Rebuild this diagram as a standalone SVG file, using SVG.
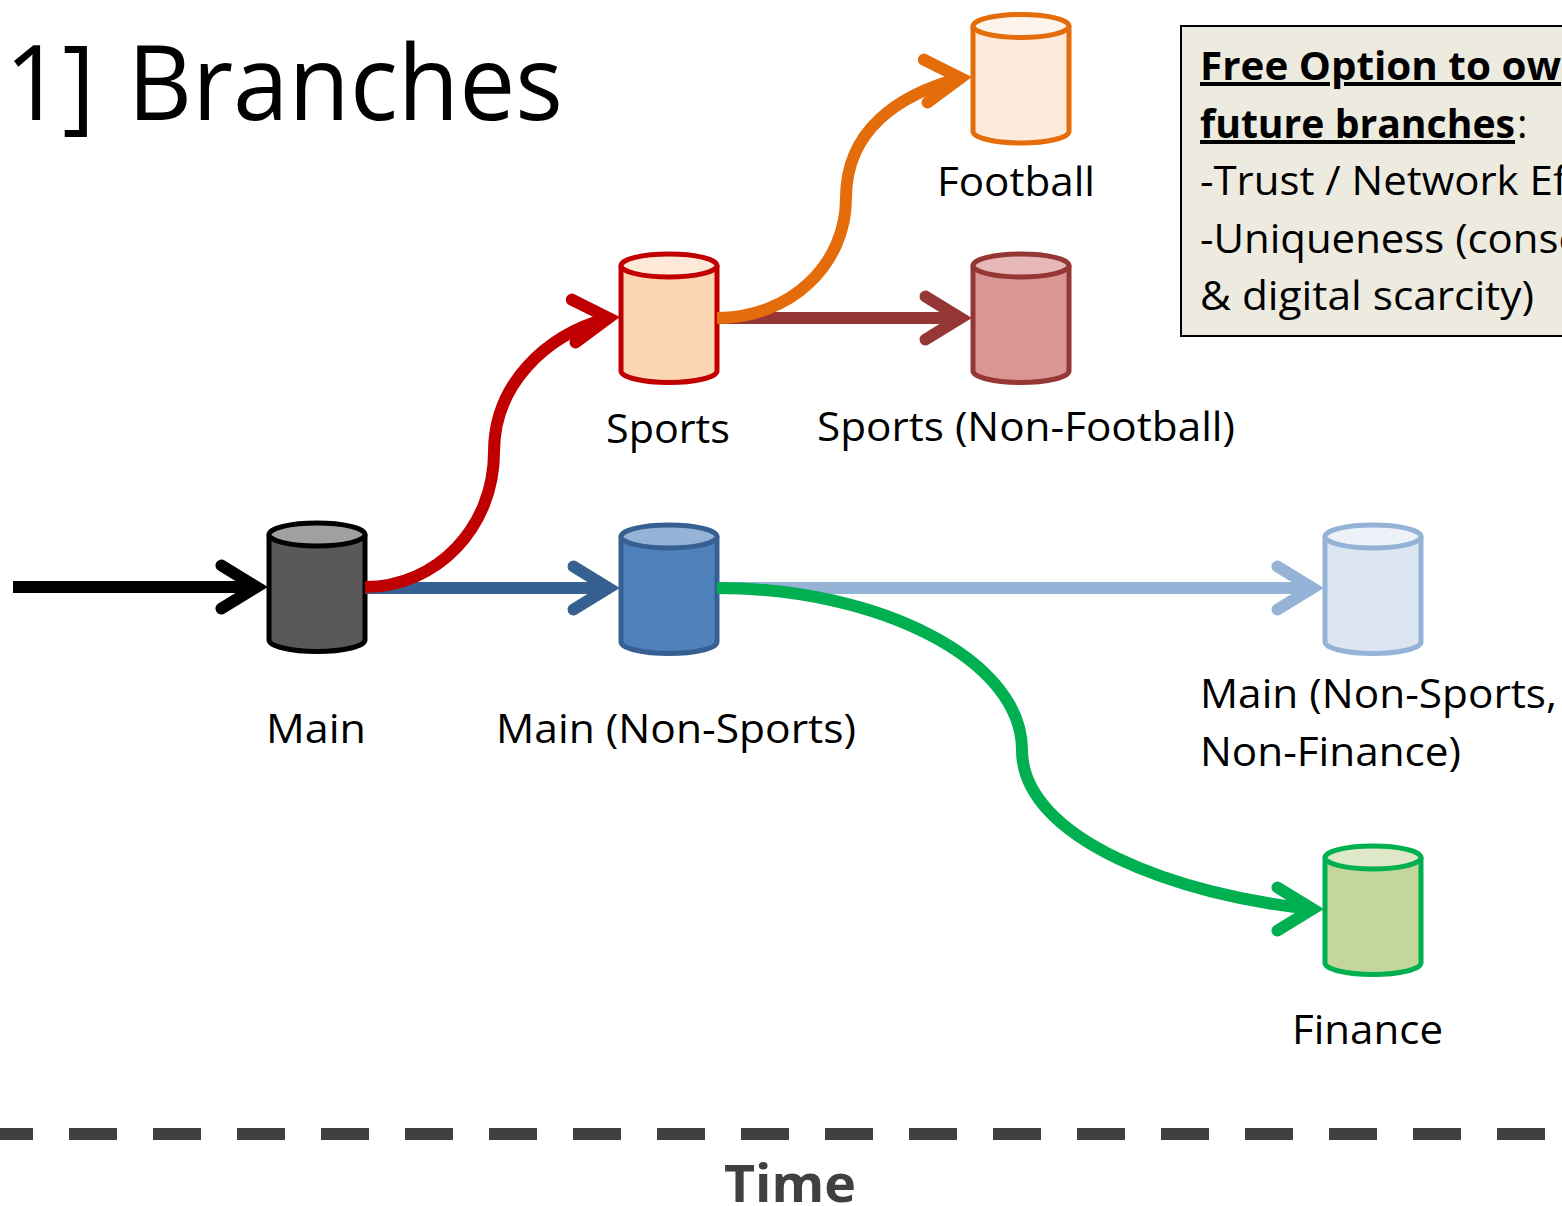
<svg xmlns="http://www.w3.org/2000/svg" width="1562" height="1206" viewBox="0 0 1562 1206">
<style>
text{font-family:"Open Sans","Liberation Sans",sans-serif;font-size:40px;fill:#000}
.title{font-size:105px;word-spacing:7px}
.b{font-weight:700}
.c{fill:none;stroke-width:12}
.cyl{stroke-width:5;stroke-linejoin:round}
.u{text-decoration:underline;text-decoration-thickness:4px}
.h{fill:none;stroke-width:12;stroke-linecap:round}
</style>
<defs>
<marker id="mk" viewBox="-60 -30 80 60" markerWidth="80" markerHeight="60" orient="auto" markerUnits="userSpaceOnUse"><path class="h" stroke="#000" d="M-35-21.500L0 0L-35 21.500"/></marker>
<marker id="mb" viewBox="-60 -30 80 60" markerWidth="80" markerHeight="60" orient="auto" markerUnits="userSpaceOnUse"><path class="h" stroke="#376092" d="M-35-21.500L0 0L-35 21.500"/></marker>
<marker id="ml" viewBox="-60 -30 80 60" markerWidth="80" markerHeight="60" orient="auto" markerUnits="userSpaceOnUse"><path class="h" stroke="#95B3D7" d="M-35-21.500L0 0L-35 21.500"/></marker>
<marker id="mr" viewBox="-60 -30 80 60" markerWidth="80" markerHeight="60" orient="-5" markerUnits="userSpaceOnUse"><path class="h" stroke="#C00000" d="M-35-21.500L0 0L-35 21.500"/></marker>
<marker id="md" viewBox="-60 -30 80 60" markerWidth="80" markerHeight="60" orient="auto" markerUnits="userSpaceOnUse"><path class="h" stroke="#953735" d="M-35-21.500L0 0L-35 21.500"/></marker>
<marker id="mo" viewBox="-60 -30 80 60" markerWidth="80" markerHeight="60" orient="-5" markerUnits="userSpaceOnUse"><path class="h" stroke="#E46C0A" d="M-35-21.500L0 0L-35 21.500"/></marker>
<marker id="mg" viewBox="-60 -30 80 60" markerWidth="80" markerHeight="60" orient="0" markerUnits="userSpaceOnUse"><path class="h" stroke="#00B050" d="M-35-21.500L0 0L-35 21.500"/></marker>
<path id="cyl" d="M0 11.500V117C0 123 21 128.500 48 128.500S96 123 96 117V11.500"/>
<ellipse id="top" cx="48" cy="11.500" rx="48" ry="11.500"/>
</defs>
<rect width="1562" height="1206" fill="#fff"/>
<text class="title" x="5" y="120" textLength="558" lengthAdjust="spacingAndGlyphs">1] Branches</text>
<g id="main"><g transform="translate(269 523)" class="cyl"><use href="#cyl" fill="#595959" stroke="#000"/><use href="#top" fill="#A0A0A0" stroke="#000"/></g><text x="266" y="743" textLength="100" lengthAdjust="spacingAndGlyphs">Main</text></g>
<g id="main-non-sports"><g transform="translate(621 525)" class="cyl"><use href="#cyl" fill="#4F81BD" stroke="#376092"/><use href="#top" fill="#95B3D7" stroke="#376092"/></g><text x="496" y="743" textLength="360" lengthAdjust="spacingAndGlyphs">Main (Non-Sports)</text></g>
<g id="sports"><g transform="translate(621 254)" class="cyl"><use href="#cyl" fill="#FCD5B5" stroke="#C00000"/><use href="#top" fill="#FEE8D8" stroke="#C00000"/></g><text x="606" y="443" textLength="124" lengthAdjust="spacingAndGlyphs">Sports</text></g>
<g id="football"><g transform="translate(973 14.500)" class="cyl"><use href="#cyl" fill="#FDEADA" stroke="#E46C0A"/><use href="#top" fill="#FEF4EC" stroke="#E46C0A"/></g><text x="937" y="196" textLength="158" lengthAdjust="spacingAndGlyphs">Football</text></g>
<g id="sports-non-football"><g transform="translate(973 254)" class="cyl"><use href="#cyl" fill="#D99694" stroke="#953735"/><use href="#top" fill="#E6B9B8" stroke="#953735"/></g><text x="817" y="441" textLength="418" lengthAdjust="spacingAndGlyphs">Sports (Non-Football)</text></g>
<g id="main-non-sports-non-finance"><g transform="translate(1325 525)" class="cyl"><use href="#cyl" fill="#DCE6F2" stroke="#95B3D7"/><use href="#top" fill="#EDF2F9" stroke="#95B3D7"/></g><text x="1200" y="708" textLength="357" lengthAdjust="spacingAndGlyphs">Main (Non-Sports,</text><text x="1200" y="766" textLength="261" lengthAdjust="spacingAndGlyphs">Non-Finance)</text></g>
<g id="finance"><g transform="translate(1325 846)" class="cyl"><use href="#cyl" fill="#C3D69B" stroke="#00B050"/><use href="#top" fill="#DEE8C8" stroke="#00B050"/></g><text x="1292" y="1044" textLength="151" lengthAdjust="spacingAndGlyphs">Finance</text></g>
<g id="connectors">
<path class="c" stroke="#000" marker-end="url(#mk)" d="M13 587H256.500"/>
<path class="c" stroke="#376092" marker-end="url(#mb)" d="M365 588H608.500"/>
<path class="c" stroke="#C00000" marker-end="url(#mr)" d="M365 587C437 587 494 527 494 452C494 385 545 335 608.500 318"/>
<path class="c" stroke="#953735" marker-end="url(#md)" d="M717 318H960.500"/>
<path class="c" stroke="#E46C0A" marker-end="url(#mo)" d="M717 318C790 318 846 265 846 198C846 131 897 95 960.500 78"/>
<path class="c" stroke="#95B3D7" marker-end="url(#ml)" d="M717 588H1312.500"/>
<path class="c" stroke="#00B050" marker-end="url(#mg)" d="M717 588C880 588 1022 660 1022 750C1022 840 1180 896 1312.500 909"/>
</g>
<g id="note"><rect x="1181" y="26" width="400" height="310" fill="#EDEBE0" stroke="#000" stroke-width="2"/>
<text class="b u" x="1200" y="80" textLength="361" lengthAdjust="spacingAndGlyphs">Free Option to ow</text>
<text class="b u" x="1200" y="138" textLength="315" lengthAdjust="spacingAndGlyphs">future branches</text>
<text x="1517" y="138">:</text>
<text x="1200" y="195" textLength="367" lengthAdjust="spacingAndGlyphs">-Trust / Network Ef</text>
<text x="1200" y="253" textLength="382" lengthAdjust="spacingAndGlyphs">-Uniqueness (conse</text>
<text x="1200" y="310" textLength="334" lengthAdjust="spacingAndGlyphs">&amp; digital scarcity)</text></g>
<path d="M-15 1134H1562" stroke="#404040" stroke-width="12" stroke-dasharray="48 36" fill="none"/>
<text class="b" x="724" y="1202" textLength="132" lengthAdjust="spacingAndGlyphs" style="fill:#404040;font-size:52px">Time</text>
</svg>
